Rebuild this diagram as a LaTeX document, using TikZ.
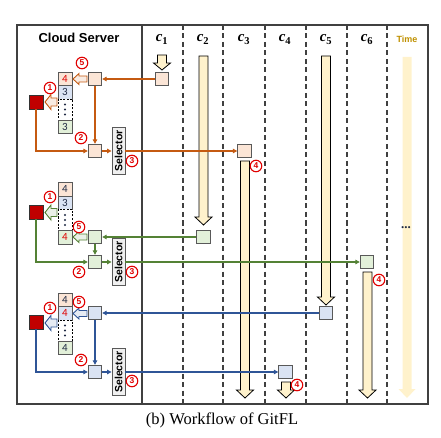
\documentclass[tikz,border=0pt]{standalone}
\usepackage{fontspec}
\setmainfont{Liberation Serif}
\newfontfamily\arial{Liberation Sans}
\newfontfamily\carl{Carlito}
\usetikzlibrary{arrows.meta,calc}
\definecolor{orl}{HTML}{C55A11}
\definecolor{orf}{HTML}{FBE5D6}
\definecolor{grl}{HTML}{548235}
\definecolor{grf}{HTML}{E2F0D9}
\definecolor{bll}{HTML}{2F5597}
\definecolor{blf}{HTML}{DAE3F3}
\definecolor{dred}{HTML}{C00000}
\definecolor{yel}{HTML}{FFF2CC}
\definecolor{bgray}{HTML}{595959}
\definecolor{frm}{HTML}{404040}
\definecolor{timec}{HTML}{BF9000}
\definecolor{cred}{HTML}{E00000}
\definecolor{numc}{HTML}{1F2A44}
\tikzset{
  box/.style={draw=bgray, line width=0.9pt, minimum size=13.5pt, inner sep=0pt},
  stk/.style={draw=bgray, line width=0.8pt, minimum width=14pt, minimum height=13.5pt, inner sep=0pt, font=\carl\fontsize{11}{11}\selectfont, text=numc},
  dstk/.style={draw=black, dash pattern=on 2pt off 1.5pt, line width=0.8pt, fill=white, minimum width=14pt, minimum height=21pt, inner sep=0pt},
  selbox/.style={draw=bgray, line width=0.9pt, fill=black!6, minimum width=13pt, minimum height=47pt, inner sep=0pt, font=\arial\bfseries\fontsize{10.5}{10.5}\selectfont},
  redsq/.style={draw=black!80, line width=0.9pt, fill=dred, minimum size=14pt, inner sep=0pt},
  circnum/.style={circle, draw=cred, line width=1.1pt, fill=white, inner sep=0pt, minimum size=11.5pt, text=cred, font=\arial\bfseries\fontsize{8.5}{8.5}\selectfont},
  conn/.style={line width=1.1pt, -{Triangle[length=4.5pt,width=4.5pt]}},
  yarr/.style={fill=yel, draw=black, line width=0.8pt},
  clab/.style={anchor=base, font=\fontsize{15}{15}\selectfont},
  dline/.style={draw=frm, line width=1.3pt, dash pattern=on 5pt off 3.5pt},
}
\newcommand\yarrow[5]{%
  \path[#5] (#1-4.5,#2) -- (#1+4.5,#2) -- (#1+4.5,#3-#4) -- (#1+8.5,#3-#4) -- (#1,#3) -- (#1-8.5,#3-#4) -- (#1-4.5,#3-#4) -- cycle;}
\newcommand\hollowL[7]{%
  \filldraw[draw=#7, fill=#7!12, line width=0.9pt] (#1,#3-#4) -- (#2+#6,#3-#4) -- (#2+#6,#3-#5) -- (#2,#3) -- (#2+#6,#3+#5) -- (#2+#6,#3+#4) -- (#1,#3+#4) -- cycle;}
\newcommand\vdotsbox[1]{%
  \fill[numc] (65,#1-5) circle (1.2pt) (65,#1) circle (1.2pt) (65,#1+5) circle (1.2pt);}
\begin{document}
\begin{tikzpicture}[x=1pt,y=-1pt]
\useasboundingbox (0,0) rectangle (441,438);
% dashed column separators
\foreach \x in {183,223,265,306,347,387} \draw[dline] (\x,25) -- (\x,404);
% frame
\draw[frm, line width=1.5pt] (17,25) rectangle (428,404);
\draw[frm, line width=1.5pt] (142,25) -- (142,404);
% labels
\node[font=\arial\bfseries\fontsize{13}{13}\selectfont] (cs) at (79,38) {Cloud Server};
\node[clab] (l1) at (162,42) {\textbf{\textit{c}}\textsubscript{\textbf{1}}};
\node[clab] (l2) at (203,42) {\textbf{\textit{c}}\textsubscript{\textbf{2}}};
\node[clab] (l3) at (244,42) {\textbf{\textit{c}}\textsubscript{\textbf{3}}};
\node[clab] (l4) at (285,42) {\textbf{\textit{c}}\textsubscript{\textbf{4}}};
\node[clab] (l5) at (326,42) {\textbf{\textit{c}}\textsubscript{\textbf{5}}};
\node[clab] (l6) at (367,42) {\textbf{\textit{c}}\textsubscript{\textbf{6}}};
\node[font=\arial\bfseries\fontsize{9}{9}\selectfont, text=timec] (tl) at (407,39) {Time};
% yellow time arrows
\yarrow{407}{57}{398}{9}{fill=yel}
\yarrow{162}{55}{70}{7}{yarr}
\yarrow{203.5}{56}{225}{8}{yarr}
\yarrow{245}{161}{398}{8}{yarr}
\yarrow{286}{382}{398}{8}{yarr}
\yarrow{326}{56}{305}{8}{yarr}
\yarrow{367.5}{272}{398}{8}{yarr}
\node[font=\bfseries\fontsize{13}{13}\selectfont, text=numc] (dots) at (406,228) {...};
% client boxes
\node[box, fill=orf] (c1b) at (162,79) {};
\node[box, fill=orf] (c3b) at (244.5,151) {};
\node[box, fill=grf] (c2b) at (203.5,237) {};
\node[box, fill=grf] (c6b) at (367,262) {};
\node[box, fill=blf] (c5b) at (326,313) {};
\node[box, fill=blf] (c4b) at (285.5,372) {};
% ---------- group 1 (orange)
\node[stk, fill=orf, text=cred] (g1a) at (65,78.75) {4};
\node[stk, fill=blf] (g1b) at (65,92.25) {3};
\node[dstk] (g1c) at (65,109.5) {};
\vdotsbox{109.5}
\node[stk, fill=grf] (g1d) at (65,126.75) {3};
\node[redsq] (rs1) at (36,102) {};
\node[box, fill=orf] (sa1) at (95,79) {};
\node[box, fill=orf] (sb1) at (95,151) {};
\node[selbox] (sel1) at (118.5,151) {\rotatebox{90}{Selector}};
\hollowL{87}{73}{79}{3}{5.5}{6}{orl}
\hollowL{57}{45}{102}{4}{7.5}{6}{orl}
\draw[conn, orl] (c1b) -- (sa1);
\draw[conn, orl] (sa1) -- (sb1);
\draw[conn, orl] (rs1.south) |- (sb1.west);
\draw[conn, orl] (sb1) -- (sel1);
\draw[conn, orl] (sel1) -- (c3b);
\node[circnum] (n15) at (82,63) {5};
\node[circnum] (n11) at (50,88) {1};
\node[circnum] (n12) at (81,138) {2};
\node[circnum] (n13) at (132,161) {3};
\node[circnum] (n14) at (256,166) {4};
% ---------- group 2 (green)
\node[stk, fill=orf] (g2a) at (65,189.25) {4};
\node[stk, fill=blf] (g2b) at (65,202.75) {3};
\node[dstk] (g2c) at (65,220) {};
\vdotsbox{220}
\node[stk, fill=grf, text=cred] (g2d) at (65,237.25) {4};
\node[redsq] (rs2) at (36,212) {};
\node[box, fill=grf] (sa2) at (95,237) {};
\node[box, fill=grf] (sb2) at (95,262) {};
\node[selbox] (sel2) at (118.5,262) {\rotatebox{90}{Selector}};
\hollowL{87}{73}{237}{3}{5.5}{6}{grl}
\hollowL{57}{45}{212.5}{4}{7.5}{6}{grl}
\draw[conn, grl] (c2b) -- (sa2);
\draw[conn, grl] (sa2) -- (sb2);
\draw[conn, grl] (rs2.south) |- (sb2.west);
\draw[conn, grl] (sb2) -- (sel2);
\draw[conn, grl] (sel2) -- (c6b);
\node[circnum] (n21) at (50,197) {1};
\node[circnum] (n25) at (79,227) {5};
\node[circnum] (n22) at (79,272) {2};
\node[circnum] (n23) at (132,272) {3};
\node[circnum] (n24) at (379,280) {4};
% ---------- group 3 (blue)
\node[stk, fill=orf] (g3a) at (65,299.75) {4};
\node[stk, fill=blf, text=cred] (g3b) at (65,313.25) {4};
\node[dstk] (g3c) at (65,330.5) {};
\vdotsbox{330.5}
\node[stk, fill=grf] (g3d) at (65,347.75) {4};
\node[redsq] (rs3) at (36,322) {};
\node[box, fill=blf] (sa3) at (95,313) {};
\node[box, fill=blf] (sb3) at (95,372) {};
\node[selbox] (sel3) at (118.5,372) {\rotatebox{90}{Selector}};
\hollowL{87}{73}{313.5}{3}{5.5}{6}{bll}
\hollowL{57}{45}{323}{4}{7.5}{6}{bll}
\draw[conn, bll] (c5b) -- (sa3);
\draw[conn, bll] (sa3) -- (sb3);
\draw[conn, bll] (rs3.south) |- (sb3.west);
\draw[conn, bll] (sb3) -- (sel3);
\draw[conn, bll] (sel3) -- (c4b);
\node[circnum] (n31) at (50,308) {1};
\node[circnum] (n35) at (79,302) {5};
\node[circnum] (n32) at (81,360) {2};
\node[circnum] (n33) at (132,381) {3};
\node[circnum] (n34) at (297,385) {4};
% caption
\node[font=\fontsize{16.5}{16.5}\selectfont] (cap) at (222,420) {(b) Workflow of GitFL};
\end{tikzpicture}
\end{document}
